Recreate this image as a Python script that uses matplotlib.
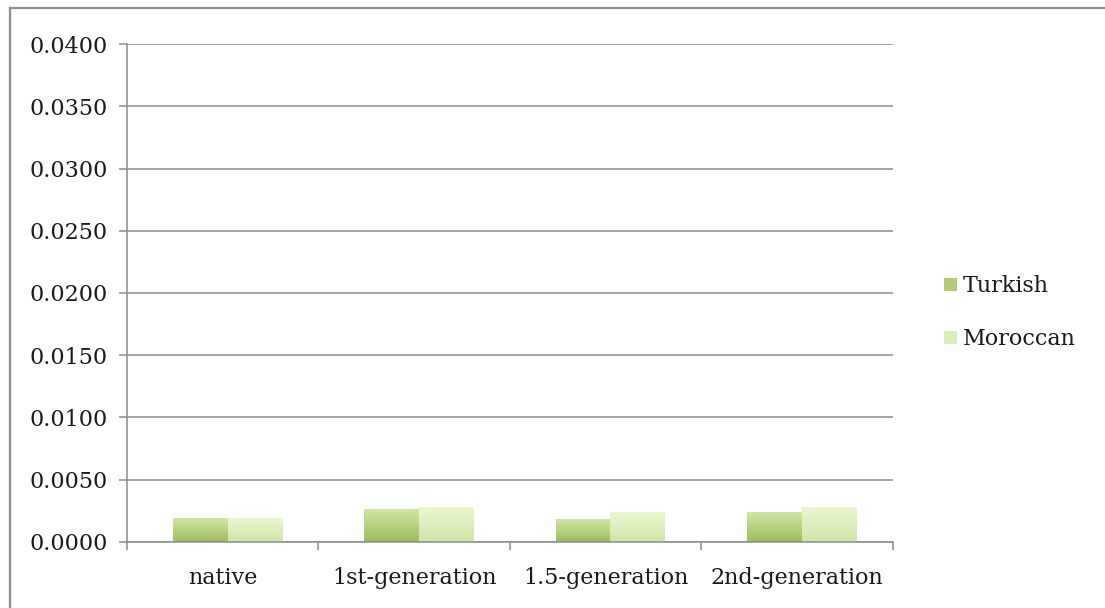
import numpy as np
import matplotlib
matplotlib.use("Agg")
import matplotlib.pyplot as plt
import matplotlib.patches as mpatches
from matplotlib.colors import LinearSegmentedColormap
from matplotlib.lines import Line2D

# Datos
categories = ["native", "1st-generation", "1.5-generation", "2nd-generation"]
turkish = [0.0019, 0.0026, 0.0018, 0.0024]
moroccan = [0.0019, 0.0028, 0.0024, 0.0028]
series_names = ["Turkish", "Moroccan"]
yticks = np.arange(0, 0.0401, 0.005)

GRID = "#8c8c8c"
TEXT = "#1a1a1a"
# degradado (arriba, abajo) de cada serie
GRAD = {
    "Turkish": ("#cfe6a6", "#9dbd5b"),
    "Moroccan": ("#ebf8d0", "#cfe5a9"),
}
LEGEND_COLORS = {"Turkish": "#afcd74", "Moroccan": "#daeebb"}

plt.rcParams["font.family"] = ["DejaVu Serif"]

fig = plt.figure(figsize=(11.05, 6.08), dpi=100, facecolor="white")
ax = fig.add_axes([0.1149, 0.1086, 0.8081 - 0.1149, 0.9276 - 0.1086])

x = np.arange(len(categories))
width = 1 / 3.5
shift = 0.025  # pequeño desplazamiento del grupo hacia la derecha

for i, (name, vals) in enumerate(zip(series_names, [turkish, moroccan])):
    top, bottom = GRAD[name]
    cmap = LinearSegmentedColormap.from_list(name, [bottom, top])
    bars = ax.bar(x + shift + (i - 0.5) * width, vals, width, color=top,
                  linewidth=0, zorder=3)
    for b in bars:
        b.set_alpha(0)
        grad = np.linspace(0, 1, 64).reshape(-1, 1)
        ax.imshow(grad, cmap=cmap, origin="lower", aspect="auto",
                  extent=(b.get_x(), b.get_x() + b.get_width(), 0, b.get_height()),
                  zorder=3)

ax.set_xlim(-0.5, len(categories) - 0.5)
ax.set_ylim(0, 0.04)
ax.set_yticks(yticks)
ax.set_yticklabels([f"{v:.4f}" for v in yticks])
ax.set_xticks(np.arange(-0.5, len(categories), 1))
ax.set_xticklabels([])
ax.set_xticks(x, minor=True)
ax.set_xticklabels(categories, minor=True)

ax.grid(axis="y", color=GRID, linewidth=1.1, zorder=0)
ax.set_axisbelow(True)
for s in ["top", "right"]:
    ax.spines[s].set_visible(False)
for s in ["left", "bottom"]:
    ax.spines[s].set_color(GRID)
    ax.spines[s].set_linewidth(1.1)
    ax.spines[s].set_zorder(4)

ax.tick_params(axis="y", which="major", length=6, width=1.1, color=GRID,
               labelsize=16, labelcolor=TEXT, pad=8)
ax.tick_params(axis="x", which="major", length=6, width=1.1, color=GRID)
ax.tick_params(axis="x", which="minor", length=0, labelsize=16,
               labelcolor=TEXT, pad=18)

handles = [mpatches.Patch(facecolor=LEGEND_COLORS[n], edgecolor="none", label=n)
           for n in series_names]
ax.legend(handles=handles, loc="center left", bbox_to_anchor=(1.041, 0.46),
          frameon=False, fontsize=16, handlelength=0.55, handleheight=0.55,
          handletextpad=0.3, labelspacing=1.4, labelcolor=TEXT)

# marco exterior del gráfico (solo izquierda y arriba visibles)
fig.add_artist(Line2D([10 / 1105, 10 / 1105], [0, 1 - 8 / 608],
                      color="#8f8f8f", linewidth=1.6, transform=fig.transFigure))
fig.add_artist(Line2D([10 / 1105, 1], [1 - 8 / 608, 1 - 8 / 608],
                      color="#8f8f8f", linewidth=1.6, transform=fig.transFigure))

fig.savefig("out.png", dpi=100, facecolor="white")
plt.close(fig)
